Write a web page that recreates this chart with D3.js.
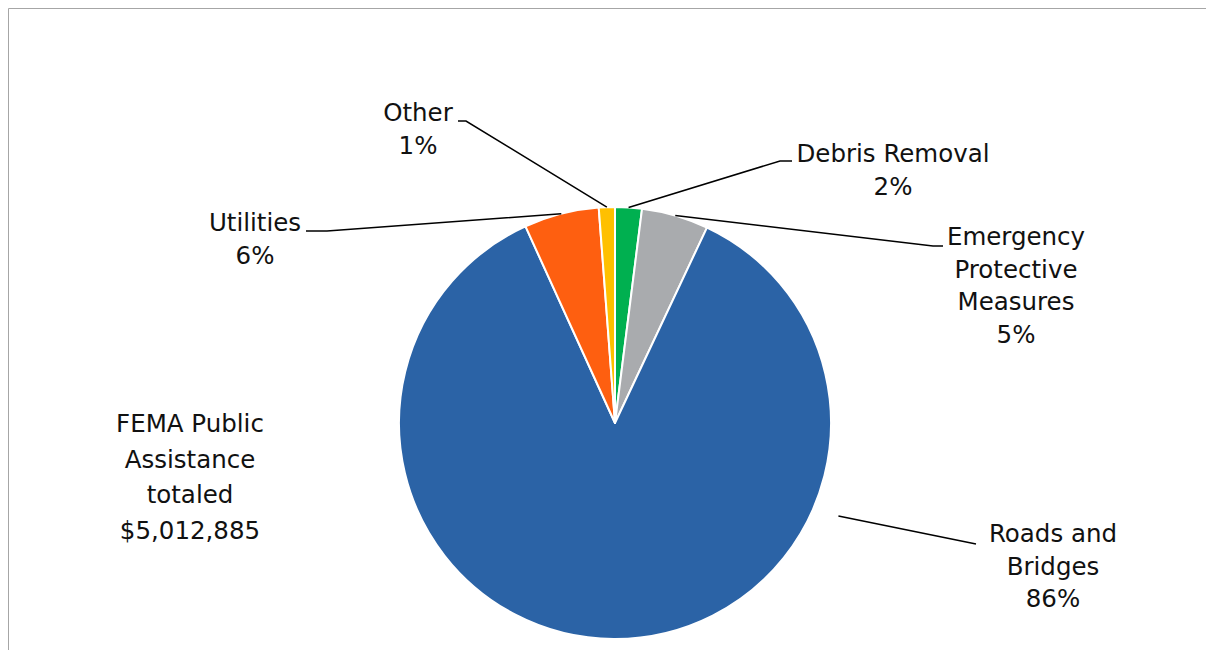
<!DOCTYPE html>
<html>
<head>
<meta charset="utf-8">
<script src="https://cdn.jsdelivr.net/npm/d3@7.9.0/dist/d3.min.js"></script>
<style>
  body { margin: 0; background: #fff; }
  text { font-family: "DejaVu Sans", "Noto Sans", sans-serif; fill: #111; }
</style>
</head>
<body>
<div id="chart"></div>
<script>
// Data (clockwise from 12 o'clock)
const categories = ['Debris Removal', 'Emergency Protective Measures', 'Roads and Bridges', 'Utilities', 'Other'];
const shares = [2.0, 5.0, 86.2, 5.6, 1.2];
const colors = ['#00b050', '#a9abae', '#2b63a6', '#fe5f10', '#ffc000'];
const totalNote = ['FEMA Public', 'Assistance', 'totaled', '$5,012,885'];

// label layout: text lines, label centre, first baseline, elbow of leader
const labelLayout = [
  { lines: ['Debris Removal'], cx: 893, y: 162, elbow: [[780, 161], [792, 161]] },
  { lines: ['Emergency', 'Protective', 'Measures'], cx: 1016, y: 245, elbow: [[933, 246], [943, 246]] },
  { lines: ['Roads and', 'Bridges'], cx: 1053, y: 542, elbow: [[976, 544]], anchor: { angle: 112.6, r: 242 } },
  { lines: ['Utilities'], cx: 255, y: 231, elbow: [[327, 231], [306, 231]] },
  { lines: ['Other'], cx: 418, y: 121, elbow: [[466, 121], [458, 121]] }
];

const width = 1206;
const height = 650;
const cx = 615, cy = 423, radius = 216;

const svg = d3.select('#chart')
  .append('svg')
  .attr('width', width)
  .attr('height', height);

// chart frame
svg.append('path')
  .attr('d', `M8.5,${height} V8.5 H${width}`)
  .attr('fill', 'none')
  .attr('stroke', '#a6a6a6')
  .attr('stroke-width', 1);

const g = svg.append('g')
  .attr('transform', `translate(${cx},${cy})`);

const pie = d3.pie().sort(null).value(d => d);
const arcs = pie(shares);

const arc = d3.arc()
  .innerRadius(0)
  .outerRadius(radius);

g.selectAll('.slice')
  .data(arcs)
  .enter()
  .append('path')
  .attr('class', 'slice')
  .attr('d', arc)
  .attr('fill', (d, i) => colors[i])
  .attr('stroke', '#fff')
  .attr('stroke-width', 2)
  .attr('stroke-linejoin', 'round');

// leader lines
const line = d3.line();
arcs.forEach((d, i) => {
  const lay = labelLayout[i];
  // polar point, angle clockwise from 12 o'clock
  let a = (d.startAngle + d.endAngle) / 2;
  let r = radius;
  if (lay.anchor) {
    a = lay.anchor.angle * Math.PI / 180;
    r = lay.anchor.r;
  }
  const start = [cx + Math.sin(a) * r, cy - Math.cos(a) * r];
  svg.append('path')
    .attr('d', line([start, ...lay.elbow]))
    .attr('fill', 'none')
    .attr('stroke', '#000')
    .attr('stroke-width', 1.5);
});

// labels
arcs.forEach((d, i) => {
  const lay = labelLayout[i];
  const lines = [...lay.lines, `${Math.round(shares[i])}%`];
  const t = svg.append('text')
    .attr('text-anchor', 'middle')
    .style('font-size', '24.5px');
  lines.forEach((s, k) => {
    t.append('tspan')
      .attr('x', lay.cx)
      .attr('y', lay.y + k * 32.5)
      .text(s);
  });
});

// total note
const note = svg.append('text')
  .attr('text-anchor', 'middle')
  .style('font-size', '24.5px');
totalNote.forEach((s, k) => {
  note.append('tspan')
    .attr('x', 190)
    .attr('y', 432 + k * 35.5)
    .text(s);
});
</script>
</body>
</html>
